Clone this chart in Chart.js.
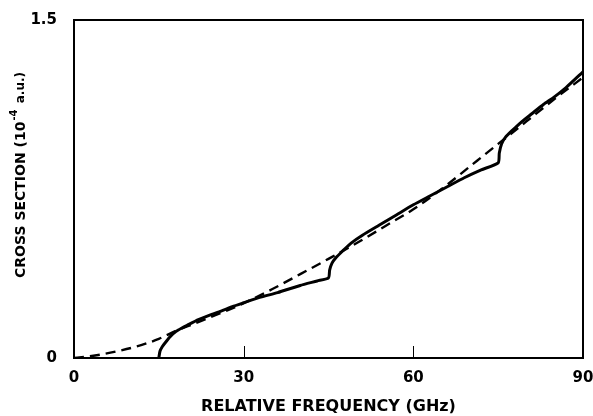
<!DOCTYPE html>
<html>
<head>
<meta charset="UTF-8">
<title>Cross section vs relative frequency</title>
<script src="https://cdn.jsdelivr.net/npm/chart.js"></script>
<style>
    html, body { margin: 0; padding: 0; background: #fff; }
    #wrap { width: 593px; height: 416px; position: relative; }
</style>
</head>
<body>
<div id="wrap"><canvas id="chart"></canvas></div>
<script>
    // values (x in GHz, y in 10^-4 a.u.)
    const solidX = [15, 15.2, 15.6, 16.2, 17, 18, 19, 20, 22, 24, 26, 28, 30, 33, 36, 40, 43, 45,
                    45.2, 45.6, 46.3, 47.5, 49, 51, 54, 57, 60, 63, 66, 69, 72, 75,
                    75.2, 75.6, 76.3, 77.5, 79, 81, 83, 85, 87, 90];
    const solidY = [0, 0.03, 0.05, 0.07, 0.095, 0.117, 0.132, 0.145, 0.17, 0.19, 0.208, 0.228, 0.245, 0.27, 0.29, 0.322, 0.342, 0.356,
                    0.39, 0.42, 0.445, 0.475, 0.51, 0.545, 0.59, 0.635, 0.68, 0.72, 0.76, 0.8, 0.835, 0.866,
                    0.91, 0.95, 0.98, 1.01, 1.045, 1.085, 1.125, 1.16, 1.2, 1.27];

    const dashX = [0, 4, 8, 12, 15, 18, 21, 24, 27, 30, 35, 40, 45, 50, 55, 60, 65, 70, 75, 80, 85, 90];
    const dashY = [0, 0.012, 0.032, 0.058, 0.085, 0.12, 0.15, 0.18, 0.21, 0.243, 0.305, 0.372, 0.44, 0.51, 0.585, 0.66, 0.75, 0.85, 0.95, 1.05, 1.15, 1.245];

    const xTicks = [0, 30, 60, 90];
    const yTicks = [0, 1.5];

    const FONT = '"DejaVu Sans", "Liberation Sans", sans-serif';

    function pts(xs, ys) {
        return xs.map((x, i) => ({ x: x, y: ys[i] }));
    }

    // frame + inner ticks + y title with superscript
    const framePlugin = {
        id: 'frame',
        afterDraw(chart) {
            const ctx = chart.ctx;
            const a = chart.chartArea;
            const xs = chart.scales.x;
            ctx.save();
            ctx.strokeStyle = '#000';
            ctx.lineWidth = 2;
            ctx.strokeRect(a.left, a.top, a.right - a.left, a.bottom - a.top);
            ctx.lineWidth = 1;
            [30, 60].forEach(v => {
                const px = Math.round(xs.getPixelForValue(v)) + 0.5;
                ctx.beginPath();
                ctx.moveTo(px, a.bottom);
                ctx.lineTo(px, a.bottom - 12);
                ctx.stroke();
            });

            // y axis title
            ctx.translate(21, 175);
            ctx.rotate(-Math.PI / 2);
            ctx.fillStyle = '#000';
            ctx.textBaseline = 'middle';
            const p1 = 'CROSS SECTION (10';
            const p2 = '-4';
            const p3 = ' a.u.)';
            ctx.font = 'bold 14px ' + FONT;
            const w1 = ctx.measureText(p1).width;
            ctx.font = 'bold 10px ' + FONT;
            const w2 = ctx.measureText(p2).width;
            ctx.font = 'bold 12px ' + FONT;
            const w3 = ctx.measureText(p3).width;
            let x0 = -(w1 + w2 + 3 + w3) / 2;
            ctx.font = 'bold 14px ' + FONT;
            ctx.fillText(p1, x0, 0);
            ctx.font = 'bold 10px ' + FONT;
            ctx.fillText(p2, x0 + w1 + 1, -7);
            ctx.font = 'bold 12px ' + FONT;
            ctx.fillText(p3, x0 + w1 + w2 + 3, 0);
            ctx.restore();
        }
    };

    new Chart(document.getElementById('chart'), {
        type: 'line',
        data: {
            datasets: [
                {
                    label: 'solid',
                    data: pts(solidX, solidY),
                    borderColor: '#000',
                    borderWidth: 3,
                    pointRadius: 0,
                    tension: 0.2,
                    fill: false
                },
                {
                    label: 'dashed',
                    data: pts(dashX, dashY),
                    borderColor: '#000',
                    borderWidth: 2.4,
                    borderDash: [10, 6],
                    pointRadius: 0,
                    cubicInterpolationMode: 'monotone',
                    fill: false
                }
            ]
        },
        options: {
            responsive: true,
            maintainAspectRatio: false,
            animation: false,
            layout: { padding: { top: 20, right: 10, left: 0, bottom: 0 } },
            plugins: {
                legend: { display: false },
                tooltip: { enabled: false }
            },
            scales: {
                x: {
                    type: 'linear',
                    min: 0,
                    max: 90,
                    afterBuildTicks: s => { s.ticks = xTicks.map(v => ({ value: v })); },
                    grid: { display: false, drawTicks: false },
                    border: { display: false },
                    ticks: {
                        color: '#000',
                        padding: 11,
                        maxRotation: 0,
                        font: { family: FONT, size: 15, weight: 'bold' }
                    },
                    title: {
                        display: true,
                        text: 'RELATIVE FREQUENCY (GHz)',
                        color: '#000',
                        padding: { top: 9, bottom: 0 },
                        font: { family: FONT, size: 16, weight: 'bold' }
                    },
                    afterFit: s => {
                        s.height = 58;
                        s.paddingLeft = 0;
                        s.paddingRight = 0;
                    }
                },
                y: {
                    type: 'linear',
                    min: 0,
                    max: 1.5,
                    afterBuildTicks: s => { s.ticks = yTicks.map(v => ({ value: v })); },
                    grid: { display: false, drawTicks: false },
                    border: { display: false },
                    ticks: {
                        color: '#000',
                        padding: 17,
                        callback: v => String(v),
                        font: { family: FONT, size: 15, weight: 'bold' }
                    },
                    afterFit: s => {
                        s.width = 74;
                        s.paddingTop = 0;
                        s.paddingBottom = 0;
                    }
                }
            }
        },
        plugins: [framePlugin]
    });
</script>
</body>
</html>
